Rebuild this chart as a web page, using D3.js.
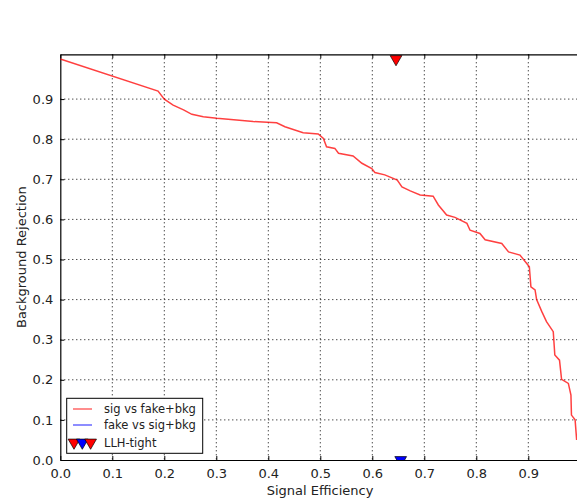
<!DOCTYPE html>
<html>
<head>
<meta charset="utf-8">
<script src="https://cdn.jsdelivr.net/npm/d3@7"></script>
<style>
  body { margin: 0; background: #fff; }
  text { font-family: "DejaVu Sans", sans-serif; fill: #222; }
</style>
</head>
<body>
<div id="chart"></div>
<script>
// ROC curve: signal efficiency vs background rejection
var sigEff = [0, 0.188, 0.2, 0.217, 0.237, 0.253, 0.275, 0.301, 0.339, 0.371, 0.398, 0.416, 0.432, 0.448, 0.467, 0.496, 0.506, 0.512, 0.528, 0.535, 0.563, 0.58, 0.599, 0.605, 0.624, 0.648, 0.657, 0.673, 0.692, 0.717, 0.727, 0.743, 0.759, 0.782, 0.788, 0.807, 0.817, 0.849, 0.862, 0.884, 0.897, 0.902, 0.905, 0.913, 0.916, 0.926, 0.935, 0.948, 0.951, 0.96, 0.964, 0.977, 0.982, 0.983, 0.99, 0.993];
var bkgRej = [1.0, 0.92, 0.9, 0.885, 0.873, 0.862, 0.856, 0.852, 0.848, 0.844, 0.842, 0.841, 0.831, 0.824, 0.816, 0.813, 0.802, 0.781, 0.777, 0.765, 0.758, 0.74, 0.727, 0.717, 0.711, 0.698, 0.681, 0.671, 0.661, 0.658, 0.636, 0.611, 0.605, 0.590, 0.573, 0.565, 0.549, 0.540, 0.519, 0.511, 0.490, 0.482, 0.432, 0.424, 0.40, 0.370, 0.345, 0.320, 0.262, 0.249, 0.201, 0.191, 0.162, 0.112, 0.10, 0.05];
// LLH-tight working points
var wpNames = ["sig vs fake+bkg", "fake vs sig+bkg"];
var wpX = [0.6456, 0.6546];
var wpY = [1.0, 0.0];
var wpColors = ["red", "blue"];
var xTicks = [0, 0.1, 0.2, 0.3, 0.4, 0.5, 0.6, 0.7, 0.8, 0.9];
var yTicks = [0, 0.1, 0.2, 0.3, 0.4, 0.5, 0.6, 0.7, 0.8, 0.9];

var width = 577, height = 498;
var plotL = 60.3, plotT = 54.3, plotB = 460, plotW = 520;

var x = d3.scaleLinear().domain([0, 1]).range([plotL, plotL + plotW]);
var y = d3.scaleLinear().domain([0, 1.0117]).range([plotB, plotT]);

var svg = d3.select("#chart").append("svg")
    .attr("width", width)
    .attr("height", height);

svg.append("clipPath").attr("id", "plotclip")
  .append("rect")
    .attr("x", plotL).attr("y", plotT)
    .attr("width", plotW).attr("height", plotB - plotT);

// grid
svg.append("g").selectAll("line").data(xTicks.slice(1))
  .enter().append("line")
    .attr("x1", function(d) { return x(d); })
    .attr("x2", function(d) { return x(d); })
    .attr("y1", plotT).attr("y2", plotB)
    .attr("stroke", "#000").attr("stroke-width", 1)
    .attr("stroke-dasharray", "1,3");
svg.append("g").selectAll("line").data(yTicks.slice(1))
  .enter().append("line")
    .attr("y1", function(d) { return y(d); })
    .attr("y2", function(d) { return y(d); })
    .attr("x1", plotL).attr("x2", plotL + plotW)
    .attr("stroke", "#000").attr("stroke-width", 1)
    .attr("stroke-dasharray", "1,3");

// axes, ticks pointing inward
var fmt = d3.format(".1f");
svg.append("g")
    .attr("transform", "translate(0," + plotB + ")")
    .call(d3.axisBottom(x).tickValues(xTicks).tickFormat(fmt).tickSizeInner(-4).tickSizeOuter(0).tickPadding(9))
    .call(function(g) { g.selectAll("text").style("font-size", "13px").style("font-family", "DejaVu Sans"); });
svg.append("g")
    .attr("transform", "translate(0," + plotT + ")")
    .call(d3.axisTop(x).tickValues(xTicks).tickFormat("").tickSizeInner(-4).tickSizeOuter(0));
svg.append("g")
    .attr("transform", "translate(" + plotL + ",0)")
    .call(d3.axisLeft(y).tickValues(yTicks).tickFormat(fmt).tickSizeInner(-4).tickSizeOuter(0).tickPadding(7))
    .call(function(g) { g.selectAll("text").style("font-size", "13px").style("font-family", "DejaVu Sans"); });
svg.selectAll(".domain").attr("stroke", "#000").attr("stroke-width", 1.2);

// curve
var line = d3.line()
    .x(function(d) { return x(d[0]); })
    .y(function(d) { return y(d[1]); });
svg.append("path")
    .datum(d3.zip(sigEff, bkgRej))
    .attr("clip-path", "url(#plotclip)")
    .attr("fill", "none")
    .attr("stroke", "red")
    .attr("stroke-opacity", 0.75)
    .attr("stroke-width", 1.5)
    .attr("d", line);

// working point markers
var tri = d3.symbol().type(d3.symbolTriangle).size(60);
svg.append("g").attr("clip-path", "url(#plotclip)")
  .selectAll("path").data(wpX)
  .enter().append("path")
    .attr("d", tri)
    .attr("transform", function(d, i) { return "translate(" + x(d) + "," + y(wpY[i]) + ") rotate(180)"; })
    .attr("fill", function(d, i) { return wpColors[i]; })
    .attr("stroke", "#000").attr("stroke-width", 0.7);

// legend
var lg = svg.append("g");
lg.append("rect")
    .attr("x", 66.7).attr("y", 398.3)
    .attr("width", 136).attr("height", 55)
    .attr("fill", "#fff").attr("stroke", "#000").attr("stroke-width", 1);
wpNames.forEach(function(name, i) {
  var ly = 409 + i * 16;
  lg.append("line")
      .attr("x1", 73).attr("x2", 92)
      .attr("y1", ly).attr("y2", ly)
      .attr("stroke", wpColors[i]).attr("stroke-opacity", 0.6).attr("stroke-width", 1.5);
  lg.append("text")
      .attr("x", 104).attr("y", ly)
      .attr("dy", "0.35em")
      .style("font-size", "11.5px")
      .text(name);
});
var legTri = ["red", "blue", "red"];
legTri.forEach(function(c, i) {
  lg.append("path")
      .attr("d", tri)
      .attr("transform", "translate(" + (74 + i * 8.3) + ",442.5) rotate(180)")
      .attr("fill", c)
      .attr("stroke", "#000").attr("stroke-width", 0.7);
});
lg.append("text")
    .attr("x", 104).attr("y", 442.5)
    .attr("dy", "0.35em")
    .style("font-size", "11.5px")
    .text("LLH-tight");

// axis titles
svg.append("text")
    .attr("x", 320).attr("y", 490)
    .attr("dy", "0.35em")
    .attr("text-anchor", "middle")
    .style("font-size", "13px")
    .text("Signal Efficiency");
svg.append("text")
    .attr("transform", "translate(21," + ((plotT + plotB) / 2) + ") rotate(-90)")
    .attr("dy", "0.35em")
    .attr("text-anchor", "middle")
    .style("font-size", "13px")
    .text("Background Rejection");
</script>
</body>
</html>
